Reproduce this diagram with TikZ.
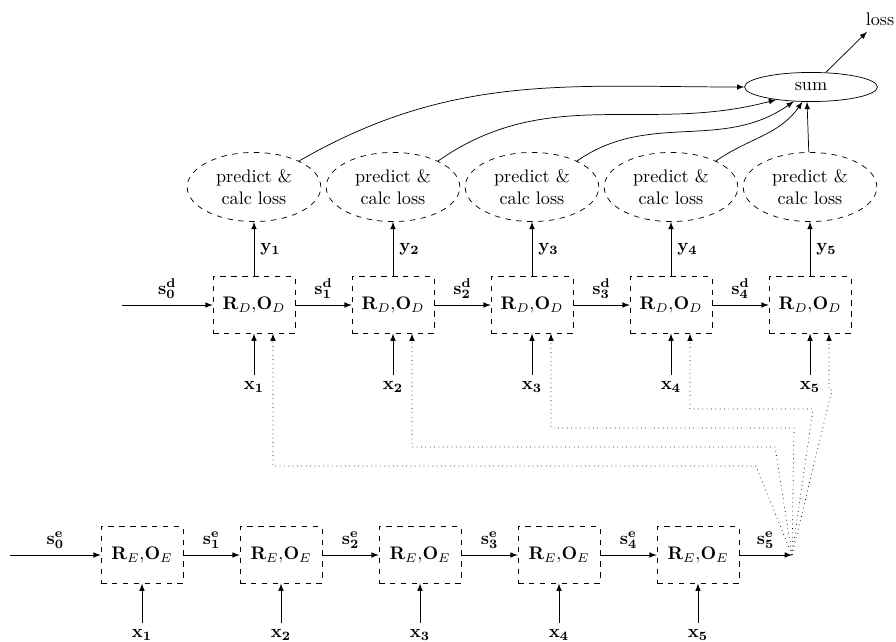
\documentclass[tikz,border=0pt]{standalone}
\usepackage{amsmath}
\usepackage{tikz}
\usetikzlibrary{positioning, shapes, arrows.meta, calc}

\begin{document}
\begin{tikzpicture}[
    x=0.55pt, y=-0.55pt,
    >=latex,
    cell/.style={draw, dashed, minimum width=45pt, minimum height=31pt, inner sep=0pt},
    pred/.style={draw, dashed, ellipse, minimum width=73.5pt, minimum height=38pt, inner sep=0pt, align=center},
    sumnode/.style={draw, ellipse, minimum width=73pt, minimum height=16pt, inner sep=0pt}
]

\useasboundingbox (0,0) rectangle (896,642);

% Spacing of the cells
\def\colgap{139}

% Decoder chain with the prediction heads
\foreach \i in {1,...,5} {
    \node[cell] (d\i) at ({254+\colgap*(\i-1)},305) {$\mathbf{R}_D{,}\mathbf{O}_D$};
    \node[pred] (p\i) at ({254+\colgap*(\i-1)},187) {predict \&\\calc loss};
    \node (dx\i) at ({254+\colgap*(\i-1)},387) {$\mathbf{x_\i}$};
    \draw[->] (d\i) -- (p\i) node[midway, right] {$\mathbf{y_\i}$};
    \draw[->] (dx\i) -- (d\i);
}

% Encoder chain
\foreach \i in {1,...,5} {
    \node[cell] (e\i) at ({142+\colgap*(\i-1)},555) {$\mathbf{R}_E{,}\mathbf{O}_E$};
    \node (ex\i) at ({142+\colgap*(\i-1)},635) {$\mathbf{x_\i}$};
    \draw[->] (ex\i) -- (e\i);
}

% States passed along the chains
\coordinate (d0) at (122,305);
\coordinate (e0) at (10,555);
\coordinate (hub) at (792,555);
\draw[->] (d0) -- (d1) node[midway, above] {$\mathbf{s^d_0}$};
\draw[->] (e0) -- (e1) node[midway, above] {$\mathbf{s^e_0}$};
\foreach \i [count=\j from 2] in {1,...,4} {
    \draw[->] (d\i) -- (d\j) node[midway, above] {$\mathbf{s^d_\i}$};
    \draw[->] (e\i) -- (e\j) node[midway, above] {$\mathbf{s^e_\i}$};
}
\draw[->] (e5) -- (hub) node[midway, above] {$\mathbf{s^e_5}$};

% Final encoder state fed to every decoder cell
\foreach \i in {1,...,5} {
    \draw[->, dotted] (hub) -- ({737+19*\i},{485-19*\i}) -| ($(d\i.south)+(19,0)$);
}

% Summing the losses
\node[sumnode] (sum) at (811,87) {sum};
\node (loss) at (880,19) {loss};
\draw[->] (sum) -- (loss);
\draw[->] (p1.30) to[out=30, in=180] (sum.west);
\draw[->] (p2.30) to[out=35, in=195] (sum.200);
\draw[->] (p3.30) to[out=35, in=215] (sum.220);
\draw[->] (p4.30) to[out=35, in=235] (sum.240);
\draw[->] (p5) -- (sum.255);

\end{tikzpicture}
\end{document}
